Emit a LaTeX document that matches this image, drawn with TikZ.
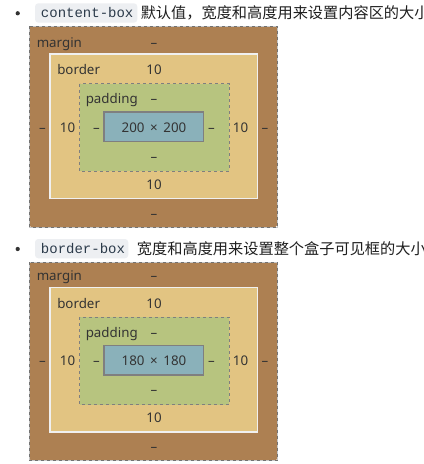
\documentclass[tikz,border=0pt]{standalone}
\usepackage{fontspec}
\setmainfont{Noto Sans}
\setmonofont{Liberation Mono}
\newfontfamily\cjk{Noto Sans CJK SC}
\definecolor{cmargin}{HTML}{AD8052}
\definecolor{cborder}{HTML}{E2C482}
\definecolor{cpadding}{HTML}{B7C47F}
\definecolor{ccontent}{HTML}{8AB1BA}
\definecolor{ctext}{HTML}{333333}
\definecolor{cline}{HTML}{7F7F7F}
\definecolor{ccode}{HTML}{EDEFF2}
\definecolor{ccodetext}{HTML}{2B3A4A}
\tikzset{
  lbl/.style={font=\fontsize{10}{12}\selectfont, text=ctext, inner sep=0pt, anchor=base},
  lblw/.style={lbl, anchor=base west},
  codebox/.style={fill=ccode, rounded corners=2.5pt},
  codetxt/.style={font=\ttfamily\fontsize{10.5}{12}\selectfont, text=ccodetext, inner sep=0pt, anchor=base west},
  cntxt/.style={font=\cjk\fontsize{11.4}{13}\selectfont, text=black!88, inner sep=0pt, anchor=base west},
  bulletdot/.style={fill=ctext, draw=none},
}
\newcommand{\boxmodel}[4]{%
  % #1 prefix, #2 vertical shift, #3 margin top, #4 content text
  \begin{scope}[shift={(0,#2)}]
    \fill[cmargin, rounded corners=1.2pt] (29.5,#3) rectangle (277,227);
    \draw[line width=0.75pt, draw=black!22] (29.5,#3) rectangle (277,227);
    \draw[line width=0.75pt, draw=black!55, dash pattern=on 2.25pt off 2.25pt] (29.5,#3) rectangle (277,227);
    \fill[cborder] (50,54) rectangle (257.5,198.5);
    \draw[line width=1.1pt, draw=white!94!black] (50,54) rectangle (257.5,198.5);
    \fill[cpadding] (79.5,83.5) rectangle (229,171);
    \draw[line width=0.75pt, draw=cline, dash pattern=on 2.25pt off 2.25pt] (79.5,83.5) rectangle (229,171);
    \fill[ccontent] (104,112) rectangle (203.5,141.5);
    \draw[line width=0.9pt, draw=cline] (104,112) rectangle (203.5,141.5);
    \node[lblw] (#1-mname) at (36.5,47) {margin};
    \node[lbl] (#1-mt) at (154,47) {–};
    \node[lblw] (#1-bname) at (57,74.5) {border};
    \node[lbl] (#1-bt) at (154,74.5) {10};
    \node[lblw] (#1-pname) at (85.5,103.5) {padding};
    \node[lbl] (#1-pt) at (154,103.5) {–};
    \node[lbl] (#1-ml) at (42.5,132) {–};
    \node[lbl] (#1-bl) at (67.5,132) {10};
    \node[lbl] (#1-pl) at (96.5,132) {–};
    \node[lbl] (#1-c) at (154,132) {#4};
    \node[lbl] (#1-pr) at (211.5,132) {–};
    \node[lbl] (#1-br) at (240.5,132) {10};
    \node[lbl] (#1-mr) at (265,132) {–};
    \node[lbl] (#1-pb) at (154,161) {–};
    \node[lbl] (#1-bb) at (154,189) {10};
    \node[lbl] (#1-mb) at (154,218) {–};
  \end{scope}%
}
\begin{document}
\begin{tikzpicture}[x=0.75pt,y=-0.75pt]
  \useasboundingbox[fill=white] (0,0) rectangle (424,464);
  % first item
  \fill[bulletdot] (17.7,13.3) circle (1.6pt);
  \fill[codebox] (35,3.3) rectangle (137.3,22.7);
  \node[codetxt] (code1) at (40.7,17.5) {content-box};
  \node[cntxt] (txt1) at (140.5,18.5) {默认值，宽度和高度用来设置内容区的大小};
  \boxmodel{a}{0}{26}{200\hspace{4.2pt}×\hspace{4.2pt}200}
  % second item
  \fill[bulletdot] (17.7,249) circle (1.6pt);
  \fill[codebox] (35,239) rectangle (128.3,258.3);
  \node[codetxt] (code2) at (40.7,253.2) {border-box};
  \node[cntxt] (txt2) at (136.7,254.2) {宽度和高度用来设置整个盒子可见框的大小};
  \boxmodel{b}{233.5}{28.5}{180\hspace{4.2pt}×\hspace{4.2pt}180}
\end{tikzpicture}
\end{document}
